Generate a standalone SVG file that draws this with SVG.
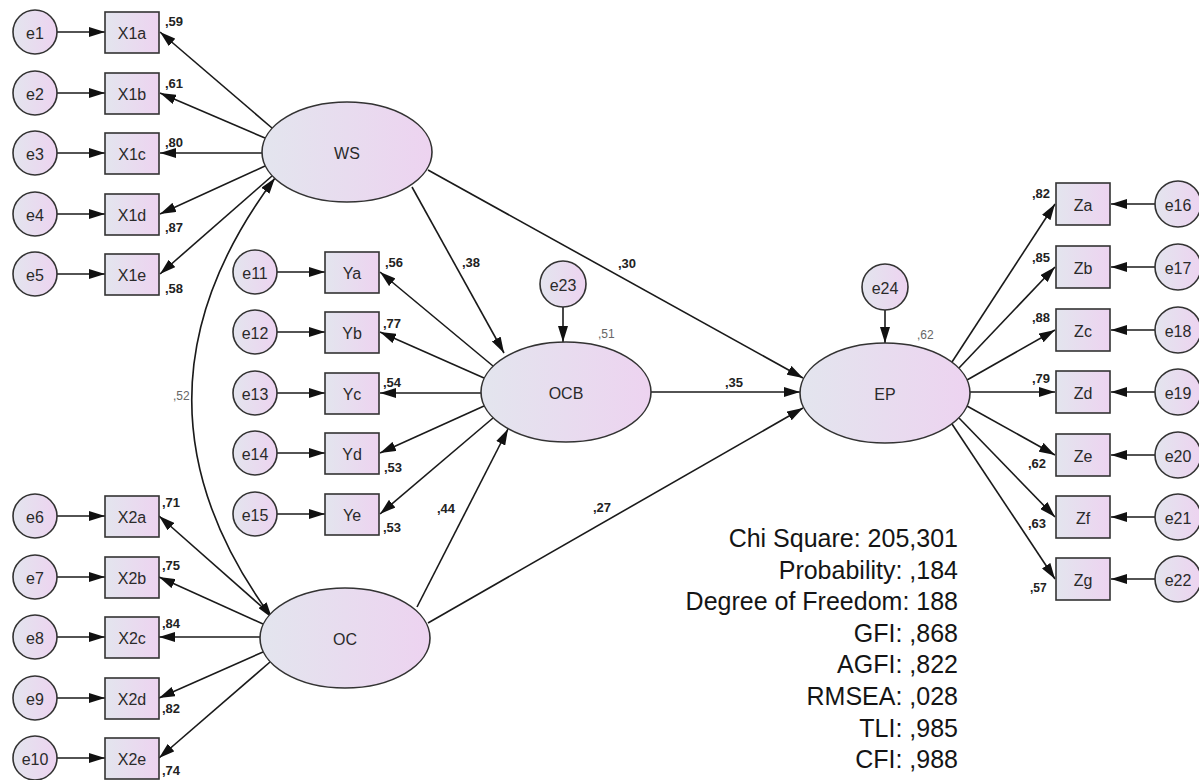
<svg xmlns="http://www.w3.org/2000/svg" width="1199" height="780" viewBox="0 0 1199 780">
<defs>
<linearGradient id="g" x1="0" y1="0" x2="1" y2="0">
<stop offset="0" stop-color="#e3e5ee"/>
<stop offset="1" stop-color="#edd3f0"/>
</linearGradient>
<marker id="a" markerUnits="userSpaceOnUse" markerWidth="16" markerHeight="10" refX="16" refY="5" orient="auto-start-reverse" viewBox="0 0 16 10">
<path d="M0,0 L16,5 L0,10 z" fill="#111"/>
</marker>
<style>
.n ellipse,.n circle,.n rect{fill:url(#g);stroke:#333;stroke-width:1.6}
.t{font-family:"Liberation Sans",Arial,sans-serif;font-size:16px;fill:#2a2a2a;text-anchor:middle;dominant-baseline:central}
.v{font-family:"Liberation Sans",Arial,sans-serif;font-size:13px;font-weight:bold;fill:#222}
.g{font-family:"Liberation Sans",Arial,sans-serif;font-size:12px;fill:#666}
.s{font-family:"Liberation Sans",Arial,sans-serif;font-size:25px;fill:#151515;text-anchor:end}
#c line,#c path{stroke:#1a1a1a;stroke-width:1.6;fill:none;marker-end:url(#a)}
</style>
</defs>
<rect width="1199" height="780" fill="#fff"/>
<g id="c">
<!-- e -> X1 -->
<line x1="57" y1="32" x2="105" y2="32"/>
<line x1="57" y1="93" x2="105" y2="93"/>
<line x1="57" y1="153" x2="105" y2="153"/>
<line x1="57" y1="214" x2="105" y2="214"/>
<line x1="57" y1="274" x2="105" y2="274"/>
<!-- WS -> X1 -->
<line x1="272" y1="128" x2="160" y2="32"/>
<line x1="265" y1="138" x2="160" y2="93"/>
<line x1="262" y1="153" x2="160" y2="153"/>
<line x1="265" y1="166" x2="160" y2="214"/>
<line x1="272" y1="176" x2="160" y2="274"/>
<!-- e -> X2 -->
<line x1="57" y1="516" x2="105" y2="516"/>
<line x1="57" y1="577" x2="105" y2="577"/>
<line x1="57" y1="637" x2="105" y2="637"/>
<line x1="57" y1="698" x2="105" y2="698"/>
<line x1="57" y1="758" x2="105" y2="758"/>
<!-- OC -> X2 -->
<line x1="270" y1="614" x2="159" y2="516"/>
<line x1="263" y1="624" x2="159" y2="577"/>
<line x1="260" y1="637" x2="159" y2="637"/>
<line x1="263" y1="652" x2="159" y2="698"/>
<line x1="270" y1="662" x2="159" y2="758"/>
<!-- e -> Y -->
<line x1="277" y1="272" x2="325" y2="272"/>
<line x1="277" y1="332" x2="325" y2="332"/>
<line x1="277" y1="393" x2="325" y2="393"/>
<line x1="277" y1="453" x2="325" y2="453"/>
<line x1="277" y1="514" x2="325" y2="514"/>
<!-- OCB -> Y -->
<line x1="493" y1="366" x2="380" y2="272"/>
<line x1="484" y1="378" x2="380" y2="332"/>
<line x1="481" y1="393" x2="380" y2="393"/>
<line x1="484" y1="406" x2="380" y2="453"/>
<line x1="493" y1="418" x2="380" y2="514"/>
<!-- EP -> Z -->
<line x1="952" y1="362" x2="1055" y2="204"/>
<line x1="959" y1="368" x2="1055" y2="267"/>
<line x1="967" y1="380" x2="1055" y2="330"/>
<line x1="970" y1="392" x2="1055" y2="392"/>
<line x1="967" y1="406" x2="1055" y2="455"/>
<line x1="959" y1="418" x2="1055" y2="517"/>
<line x1="952" y1="424" x2="1055" y2="579"/>
<!-- e -> Z -->
<line x1="1155" y1="204" x2="1111" y2="204"/>
<line x1="1155" y1="267" x2="1111" y2="267"/>
<line x1="1155" y1="330" x2="1111" y2="330"/>
<line x1="1155" y1="392" x2="1111" y2="392"/>
<line x1="1155" y1="455" x2="1111" y2="455"/>
<line x1="1155" y1="517" x2="1111" y2="517"/>
<line x1="1155" y1="579" x2="1111" y2="579"/>
<!-- structural -->
<line x1="412" y1="187" x2="504" y2="353"/>
<line x1="428" y1="170" x2="803" y2="378"/>
<line x1="417" y1="607" x2="508" y2="429"/>
<line x1="428" y1="623" x2="803" y2="408"/>
<line x1="651" y1="392" x2="800" y2="392"/>
<line x1="563" y1="307" x2="563" y2="342"/>
<line x1="885" y1="310" x2="885" y2="343"/>
<!-- covariance -->
<path d="M275,178 Q110,398 272,618" style="marker-start:url(#a)"/>
</g>
<g id="WS" class="n"><ellipse cx="347" cy="152" rx="85" ry="50"/><text class="t" x="347" y="153">WS</text></g>
<g id="OC" class="n"><ellipse cx="345" cy="638" rx="85" ry="50"/><text class="t" x="345" y="639">OC</text></g>
<g id="OCB" class="n"><ellipse cx="566" cy="392" rx="85" ry="50"/><text class="t" x="566" y="393">OCB</text></g>
<g id="EP" class="n"><ellipse cx="885" cy="393" rx="85" ry="50"/><text class="t" x="885" y="394">EP</text></g>
<g id="e23" class="n"><circle cx="563" cy="284" r="23"/><text class="t" x="563" y="285">e23</text></g>
<g id="e24" class="n"><circle cx="885" cy="287" r="23"/><text class="t" x="885" y="288">e24</text></g>
<g id="e1" class="n"><circle cx="35" cy="32" r="22"/><text class="t" x="35" y="33">e1</text></g>
<g id="e2" class="n"><circle cx="35" cy="93" r="22"/><text class="t" x="35" y="94">e2</text></g>
<g id="e3" class="n"><circle cx="35" cy="153" r="22"/><text class="t" x="35" y="154">e3</text></g>
<g id="e4" class="n"><circle cx="35" cy="214" r="22"/><text class="t" x="35" y="215">e4</text></g>
<g id="e5" class="n"><circle cx="35" cy="274" r="22"/><text class="t" x="35" y="275">e5</text></g>
<g id="X1a" class="n"><rect x="105" y="12" width="54" height="41"/><text class="t" x="132" y="33">X1a</text></g>
<g id="X1b" class="n"><rect x="105" y="73" width="54" height="41"/><text class="t" x="132" y="94">X1b</text></g>
<g id="X1c" class="n"><rect x="105" y="133" width="54" height="41"/><text class="t" x="132" y="154">X1c</text></g>
<g id="X1d" class="n"><rect x="105" y="194" width="54" height="41"/><text class="t" x="132" y="215">X1d</text></g>
<g id="X1e" class="n"><rect x="105" y="254" width="54" height="41"/><text class="t" x="132" y="275">X1e</text></g>
<g id="e6" class="n"><circle cx="35" cy="516" r="22"/><text class="t" x="35" y="517">e6</text></g>
<g id="e7" class="n"><circle cx="35" cy="577" r="22"/><text class="t" x="35" y="578">e7</text></g>
<g id="e8" class="n"><circle cx="35" cy="637" r="22"/><text class="t" x="35" y="638">e8</text></g>
<g id="e9" class="n"><circle cx="35" cy="698" r="22"/><text class="t" x="35" y="699">e9</text></g>
<g id="e10" class="n"><circle cx="35" cy="758" r="22"/><text class="t" x="35" y="759">e10</text></g>
<g id="X2a" class="n"><rect x="105" y="496" width="54" height="41"/><text class="t" x="132" y="517">X2a</text></g>
<g id="X2b" class="n"><rect x="105" y="557" width="54" height="41"/><text class="t" x="132" y="578">X2b</text></g>
<g id="X2c" class="n"><rect x="105" y="617" width="54" height="41"/><text class="t" x="132" y="638">X2c</text></g>
<g id="X2d" class="n"><rect x="105" y="678" width="54" height="41"/><text class="t" x="132" y="699">X2d</text></g>
<g id="X2e" class="n"><rect x="105" y="738" width="54" height="41"/><text class="t" x="132" y="759">X2e</text></g>
<g id="e11" class="n"><circle cx="255" cy="272" r="22"/><text class="t" x="255" y="273">e11</text></g>
<g id="e12" class="n"><circle cx="255" cy="332" r="22"/><text class="t" x="255" y="333">e12</text></g>
<g id="e13" class="n"><circle cx="255" cy="393" r="22"/><text class="t" x="255" y="394">e13</text></g>
<g id="e14" class="n"><circle cx="255" cy="453" r="22"/><text class="t" x="255" y="454">e14</text></g>
<g id="e15" class="n"><circle cx="255" cy="514" r="22"/><text class="t" x="255" y="515">e15</text></g>
<g id="Ya" class="n"><rect x="325" y="252" width="54" height="41"/><text class="t" x="352" y="273">Ya</text></g>
<g id="Yb" class="n"><rect x="325" y="312" width="54" height="41"/><text class="t" x="352" y="333">Yb</text></g>
<g id="Yc" class="n"><rect x="325" y="373" width="54" height="41"/><text class="t" x="352" y="394">Yc</text></g>
<g id="Yd" class="n"><rect x="325" y="433" width="54" height="41"/><text class="t" x="352" y="454">Yd</text></g>
<g id="Ye" class="n"><rect x="325" y="494" width="54" height="41"/><text class="t" x="352" y="515">Ye</text></g>
<g id="Za" class="n"><rect x="1056" y="183" width="54" height="42"/><text class="t" x="1083" y="205">Za</text></g>
<g id="Zb" class="n"><rect x="1056" y="246" width="54" height="42"/><text class="t" x="1083" y="268">Zb</text></g>
<g id="Zc" class="n"><rect x="1056" y="309" width="54" height="42"/><text class="t" x="1083" y="331">Zc</text></g>
<g id="Zd" class="n"><rect x="1056" y="371" width="54" height="42"/><text class="t" x="1083" y="393">Zd</text></g>
<g id="Ze" class="n"><rect x="1056" y="434" width="54" height="42"/><text class="t" x="1083" y="456">Ze</text></g>
<g id="Zf" class="n"><rect x="1056" y="496" width="54" height="42"/><text class="t" x="1083" y="518">Zf</text></g>
<g id="Zg" class="n"><rect x="1056" y="558" width="54" height="42"/><text class="t" x="1083" y="580">Zg</text></g>
<g id="e16" class="n"><circle cx="1178" cy="204" r="23"/><text class="t" x="1178" y="205">e16</text></g>
<g id="e17" class="n"><circle cx="1178" cy="267" r="23"/><text class="t" x="1178" y="268">e17</text></g>
<g id="e18" class="n"><circle cx="1178" cy="330" r="23"/><text class="t" x="1178" y="331">e18</text></g>
<g id="e19" class="n"><circle cx="1178" cy="392" r="23"/><text class="t" x="1178" y="393">e19</text></g>
<g id="e20" class="n"><circle cx="1178" cy="455" r="23"/><text class="t" x="1178" y="456">e20</text></g>
<g id="e21" class="n"><circle cx="1178" cy="517" r="23"/><text class="t" x="1178" y="518">e21</text></g>
<g id="e22" class="n"><circle cx="1178" cy="579" r="23"/><text class="t" x="1178" y="580">e22</text></g>
<g id="labels">
<text class="v" x="165" y="26">,59</text>
<text class="v" x="165" y="88">,61</text>
<text class="v" x="165" y="147">,80</text>
<text class="v" x="165" y="232">,87</text>
<text class="v" x="165" y="293">,58</text>
<text class="v" x="162" y="507">,71</text>
<text class="v" x="162" y="570">,75</text>
<text class="v" x="162" y="628">,84</text>
<text class="v" x="162" y="713">,82</text>
<text class="v" x="162" y="775">,74</text>
<text class="v" x="385" y="267">,56</text>
<text class="v" x="383" y="328">,77</text>
<text class="v" x="383" y="387">,54</text>
<text class="v" x="384" y="472">,53</text>
<text class="v" x="383" y="532">,53</text>
<text class="v" x="1032" y="198">,82</text>
<text class="v" x="1032" y="262">,85</text>
<text class="v" x="1032" y="322">,88</text>
<text class="v" x="1032" y="383">,79</text>
<text class="v" x="1028" y="468">,62</text>
<text class="v" x="1028" y="528">,63</text>
<text class="v" x="1030" y="592" style="font-size:12px">,57</text>
<text class="v" x="462" y="267">,38</text>
<text class="v" x="618" y="268">,30</text>
<text class="v" x="725" y="387">,35</text>
<text class="v" x="437" y="513">,44</text>
<text class="v" x="593" y="512">,27</text>
<text class="g" x="598" y="338">,51</text>
<text class="g" x="917" y="339">,62</text>
<text class="g" x="173" y="400">,52</text>
</g>
<g id="stats">
<text class="s" x="958" y="547">Chi Square: 205,301</text>
<text class="s" x="958" y="579">Probability: ,184</text>
<text class="s" x="958" y="610">Degree of Freedom: 188</text>
<text class="s" x="958" y="642">GFI: ,868</text>
<text class="s" x="958" y="673">AGFI: ,822</text>
<text class="s" x="958" y="705">RMSEA: ,028</text>
<text class="s" x="958" y="737">TLI: ,985</text>
<text class="s" x="958" y="768">CFI: ,988</text>
</g>
</svg>
